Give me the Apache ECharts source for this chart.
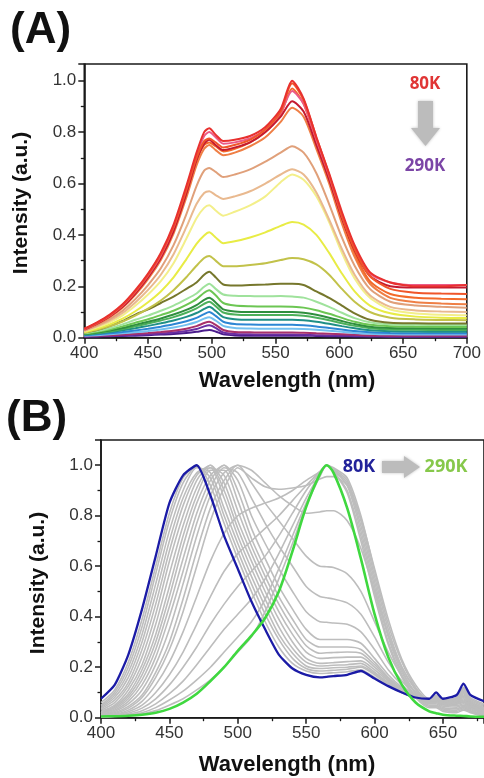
<!DOCTYPE html>
<html>
<head>
<meta charset="utf-8">
<script src="https://cdn.jsdelivr.net/npm/echarts@6.0.0/dist/echarts.min.js"></script>
<style>
  html, body { margin: 0; padding: 0; background: #fff; }
  #chart { width: 484px; height: 778px; }
</style>
</head>
<body>
<div id="chart"></div>
<script>
// ---- Panel A: temperature-dependent emission spectra (80 K -> 290 K) ----
const wavelengthA = [400,410,420,430,440,450,460,470,480,488,494,498,503,509,518,530,542,554,563,572,582,592,602,612,624,640,660,680,700];

const a80K  = [.035,.06,.09,.13,.185,.25,.33,.44,.59,.72,.80,.815,.79,.765,.77,.785,.82,.89,1.0,.93,.78,.64,.49,.36,.255,.215,.2,.2,.205];
const a90K  = [.034,.058,.087,.127,.18,.245,.325,.43,.575,.70,.765,.775,.76,.74,.75,.77,.81,.88,.99,.925,.78,.635,.475,.345,.24,.19,.175,.172,.17];
const a100K = [.033,.057,.086,.125,.178,.242,.32,.43,.58,.71,.785,.80,.78,.755,.76,.775,.81,.875,.96,.91,.77,.63,.475,.35,.25,.215,.205,.205,.205];
const a110K = [.032,.055,.083,.12,.172,.235,.31,.415,.56,.69,.755,.77,.75,.73,.74,.76,.80,.86,.92,.88,.75,.615,.465,.34,.24,.2,.195,.195,.195];
const a120K = [.033,.056,.085,.123,.175,.238,.315,.42,.565,.69,.75,.76,.745,.725,.735,.76,.80,.87,.97,.91,.765,.62,.465,.33,.22,.17,.155,.152,.15];
const a130K = [.031,.053,.08,.117,.167,.228,.302,.405,.545,.67,.735,.75,.73,.71,.72,.745,.78,.84,.895,.86,.735,.60,.445,.315,.21,.155,.138,.133,.13];
const a140K = [.028,.048,.072,.105,.15,.205,.27,.36,.48,.59,.65,.66,.645,.625,.635,.655,.685,.72,.745,.72,.64,.52,.39,.28,.19,.14,.125,.12,.117];
const a150K = [.026,.044,.066,.096,.137,.186,.245,.325,.43,.52,.563,.57,.555,.54,.55,.57,.6,.635,.655,.635,.565,.46,.345,.245,.165,.12,.106,.102,.10];
const a160K = [.024,.04,.06,.087,.124,.168,.22,.29,.385,.465,.505,.515,.495,.475,.49,.515,.55,.605,.635,.615,.55,.45,.33,.23,.155,.11,.094,.089,.087];
const a170K = [.022,.035,.052,.074,.103,.138,.18,.235,.305,.365,.398,.41,.39,.368,.375,.39,.41,.435,.45,.44,.40,.33,.25,.18,.125,.095,.082,.078,.077];
const a180K = [.02,.031,.045,.063,.086,.113,.145,.185,.235,.28,.31,.318,.3,.278,.278,.283,.29,.302,.31,.305,.285,.245,.19,.14,.1,.078,.071,.069,.068];
const a190K = [.02,.03,.045,.065,.09,.11,.135,.16,.19,.215,.245,.257,.235,.207,.203,.205,.207,.21,.21,.205,.18,.155,.125,.095,.07,.058,.056,.055,.055];
const a200K = [.018,.026,.037,.052,.07,.086,.105,.125,.15,.172,.198,.21,.19,.168,.163,.162,.161,.162,.16,.156,.14,.12,.097,.076,.06,.052,.05,.049,.049];
const a210K = [.016,.023,.032,.044,.058,.072,.088,.105,.128,.15,.175,.185,.165,.135,.125,.122,.121,.121,.12,.117,.107,.093,.077,.062,.05,.045,.043,.042,.042];
const a220K = [.014,.02,.028,.038,.05,.062,.075,.09,.108,.127,.147,.155,.137,.11,.102,.1,.1,.1,.1,.097,.089,.078,.065,.053,.043,.038,.037,.036,.036];
const a230K = [.013,.018,.025,.034,.044,.055,.067,.08,.097,.114,.132,.14,.123,.098,.09,.088,.088,.088,.088,.085,.078,.068,.056,.046,.037,.032,.031,.03,.03];
const a240K = [.012,.016,.022,.029,.037,.046,.056,.067,.081,.096,.112,.12,.104,.08,.072,.07,.07,.07,.07,.068,.062,.054,.045,.037,.029,.025,.024,.023,.023];
const a250K = [.01,.013,.017,.022,.028,.035,.043,.052,.064,.077,.092,.1,.085,.062,.053,.051,.05,.05,.05,.048,.044,.038,.032,.026,.021,.018,.017,.017,.017];
const a260K = [.008,.01,.013,.017,.021,.026,.032,.04,.05,.061,.074,.08,.067,.046,.038,.036,.035,.035,.035,.034,.031,.027,.023,.018,.015,.013,.012,.012,.012];
const a270K = [.006,.008,.01,.012,.015,.018,.022,.027,.035,.045,.057,.062,.05,.03,.022,.021,.02,.02,.02,.019,.017,.015,.013,.011,.009,.008,.008,.008,.008];
const a280K = [.005,.006,.007,.009,.011,.013,.016,.02,.026,.034,.044,.048,.038,.02,.014,.013,.012,.012,.012,.011,.01,.009,.008,.007,.006,.005,.005,.005,.005];
const a290K = [.004,.005,.006,.007,.008,.01,.012,.014,.018,.023,.028,.03,.024,.013,.009,.008,.008,.008,.008,.008,.007,.006,.006,.005,.005,.004,.004,.004,.004];

const spectraA = [a80K,a90K,a100K,a110K,a120K,a130K,a140K,a150K,a160K,a170K,a180K,a190K,a200K,a210K,a220K,a230K,a240K,a250K,a260K,a270K,a280K,a290K];
const tempsA   = ['80K','90K','100K','110K','120K','130K','140K','150K','160K','170K','180K','190K','200K','210K','220K','230K','240K','250K','260K','270K','280K','290K'];
const colorsA  = ['#e8312f','#f0562a','#ec5a86','#c41a30','#f36a2a','#ef7f45','#e0a07a','#e9b98f','#f3ef8a','#e8ec45','#c2c24a','#76772c',
                  '#9fe29c','#6cc653','#2f8f3e','#4cb05a','#1f8f86','#2d86d4','#74c0f0','#a8306a','#6b2fa3','#4a1c8c'];

// ---- Panel B: normalized spectra ----
const wavelengthB = [400,410,420,430,440,450,460,470,480,490,500,510,520,530,540,550,560,565,570,580,590,600,610,620,630,640,645,650,660,665,670,680];

const b80K  = [.075,.13,.25,.43,.64,.85,.96,1.0,.88,.72,.59,.46,.35,.25,.195,.17,.16,.162,.165,.17,.185,.155,.125,.1,.08,.075,.1,.075,.09,.135,.09,.065];
const b90K  = [.06,.11,.22,.39,.60,.81,.95,1.0,.92,.77,.63,.50,.38,.28,.215,.185,.175,.176,.178,.182,.19,.16,.125,.1,.08,.07,.09,.07,.08,.12,.08,.055];
const b100K = [.05,.1,.2,.36,.57,.78,.93,.995,.95,.8,.66,.53,.41,.31,.235,.195,.185,.186,.188,.192,.2,.17,.13,.1,.078,.068,.085,.068,.078,.115,.075,.05];
const b110K = [.045,.09,.18,.33,.53,.74,.9,.99,.97,.83,.69,.56,.44,.33,.255,.205,.195,.196,.198,.2,.205,.175,.135,.1,.078,.066,.08,.065,.075,.11,.07,.045];
const b120K = [.04,.08,.16,.3,.49,.7,.87,.97,.99,.87,.72,.59,.47,.36,.275,.22,.205,.206,.208,.21,.215,.18,.14,.105,.078,.064,.078,.062,.07,.105,.066,.04];
const b130K = [.035,.07,.14,.27,.45,.66,.84,.96,1.0,.9,.75,.62,.5,.39,.3,.235,.215,.216,.218,.222,.225,.19,.145,.105,.078,.062,.075,.06,.068,.1,.062,.038];
const b140K = [.03,.06,.125,.24,.41,.62,.8,.94,1.0,.93,.78,.65,.53,.42,.33,.26,.235,.236,.238,.24,.24,.2,.15,.11,.08,.062,.072,.058,.065,.095,.06,.035];
const b150K = [.025,.05,.11,.21,.37,.57,.76,.91,.99,.96,.82,.68,.56,.45,.36,.285,.255,.257,.258,.26,.255,.21,.155,.11,.08,.06,.07,.056,.062,.09,.058,.033];
const b160K = [.02,.045,.095,.19,.33,.52,.72,.88,.98,.98,.86,.71,.59,.48,.39,.31,.28,.28,.28,.28,.27,.22,.16,.115,.08,.06,.068,.055,.06,.085,.055,.03];
const b170K = [.018,.04,.085,.17,.3,.48,.68,.85,.96,1.0,.9,.75,.63,.52,.43,.35,.31,.31,.31,.31,.295,.235,.17,.12,.082,.06,.066,.053,.058,.08,.053,.028];
const b180K = [.015,.035,.075,.15,.27,.44,.63,.81,.94,1.0,.94,.8,.69,.59,.5,.42,.38,.378,.375,.37,.34,.27,.19,.13,.085,.06,.065,.052,.056,.075,.05,.026];
const b190K = [.012,.03,.065,.13,.24,.4,.58,.77,.91,.99,.97,.87,.77,.68,.6,.52,.48,.475,.47,.455,.41,.32,.22,.145,.09,.062,.066,.052,.055,.07,.048,.025];
const b200K = [.01,.025,.055,.11,.21,.35,.53,.72,.88,.97,1.0,.93,.85,.78,.71,.64,.6,.598,.595,.57,.5,.38,.26,.165,.1,.065,.068,.053,.054,.066,.046,.024];
const b210K = [.008,.02,.045,.09,.18,.3,.47,.66,.83,.94,1.0,.98,.93,.88,.84,.81,.815,.82,.82,.78,.67,.5,.33,.2,.115,.07,.072,.055,.054,.062,.044,.022];
const b220K = [.006,.016,.038,.08,.16,.27,.42,.6,.78,.91,.99,.95,.915,.905,.91,.92,.945,.955,.955,.92,.79,.59,.39,.23,.13,.075,.075,.056,.054,.06,.043,.02];
const b230K = [.005,.013,.03,.065,.13,.22,.34,.48,.62,.73,.8,.83,.85,.87,.9,.94,.975,1.0,.99,.95,.8,.58,.37,.22,.12,.065,.065,.05,.048,.055,.04,.018];
const b240K = [.004,.01,.024,.05,.1,.17,.26,.37,.48,.58,.65,.7,.75,.8,.86,.92,.975,1.0,.985,.94,.78,.56,.35,.2,.11,.06,.06,.045,.042,.05,.036,.015];
const b250K = [.004,.008,.018,.038,.075,.13,.2,.28,.37,.45,.52,.58,.64,.72,.81,.9,.97,1.0,.98,.93,.76,.54,.33,.19,.1,.055,.055,.04,.036,.045,.032,.012];
const b260K = [.003,.007,.014,.028,.055,.095,.145,.21,.28,.35,.41,.47,.55,.65,.76,.87,.965,1.0,.98,.92,.74,.52,.32,.18,.095,.05,.05,.035,.03,.04,.028,.01];
const b270K = [.003,.006,.011,.02,.04,.07,.105,.15,.2,.26,.32,.38,.47,.59,.72,.85,.96,1.0,.975,.9,.72,.5,.3,.17,.085,.045,.045,.03,.025,.035,.024,.008];
const b280K = [.003,.005,.009,.015,.028,.05,.075,.11,.15,.2,.26,.32,.42,.55,.69,.84,.955,1.0,.975,.89,.7,.48,.29,.16,.08,.04,.04,.025,.02,.03,.02,.006];
const b290K = [.005,.006,.008,.012,.02,.035,.06,.095,.145,.2,.265,.325,.395,.5,.66,.835,.965,1.0,.97,.83,.63,.41,.24,.13,.06,.025,.018,.012,.008,.007,.005,.004];

const grayB  = [b90K,b100K,b110K,b120K,b130K,b140K,b150K,b160K,b170K,b180K,b190K,b200K,b210K,b220K,b230K,b240K,b250K,b260K,b270K,b280K];
const grayTB = ['90K','100K','110K','120K','130K','140K','150K','160K','170K','180K','190K','200K','210K','220K','230K','240K','250K','260K','270K','280K'];

// ---- Axis tick values ----
const xTicksA = { min: 400, max: 700, step: 50 };
const xTicksB = { min: 400, max: 680, step: 50 };
const yTicksA = { min: 0, max: 1.065, step: 0.2 };
const yTicksB = { min: 0, max: 1.1, step: 0.2 };

const FONT = 'Liberation Sans';
const AXIS_COLOR = '#1a1a1a';

function pairs(xs, ys) { return xs.map((x, i) => [x, ys[i]]); }

function xAxis(gridIndex, t) {
  return {
    type: 'value', gridIndex, min: t.min, max: t.max, interval: t.step,
    axisLine: { show: true, onZero: false, lineStyle: { color: AXIS_COLOR, width: 1.6 } },
    axisTick: { show: true, inside: false, length: 6, lineStyle: { color: AXIS_COLOR, width: 1.5 } },
    minorTick: { show: true, splitNumber: 2, length: 3.5, lineStyle: { color: AXIS_COLOR, width: 1.3 } },
    splitLine: { show: false },
    axisLabel: { color: '#333', fontSize: 17, fontFamily: FONT, margin: 7, showMaxLabel: t.max % t.step === 0 }
  };
}
function yAxis(gridIndex, t) {
  return {
    type: 'value', gridIndex, min: t.min, max: t.max, interval: t.step,
    axisLine: { show: true, onZero: false, lineStyle: { color: AXIS_COLOR, width: 1.6 } },
    axisTick: { show: true, inside: false, length: 6, lineStyle: { color: AXIS_COLOR, width: 1.5 } },
    minorTick: { show: true, splitNumber: 2, length: 3.5, lineStyle: { color: AXIS_COLOR, width: 1.3 } },
    splitLine: { show: false },
    axisLabel: { color: '#333', fontSize: 17, fontFamily: FONT, margin: 8, showMaxLabel: false,
                 formatter: v => v.toFixed(1) }
  };
}

const series = [];
spectraA.forEach((vals, i) => {
  series.push({
    name: tempsA[i], type: 'line', xAxisIndex: 0, yAxisIndex: 0,
    data: pairs(wavelengthA, vals), showSymbol: false, smooth: 0.25, z: 30 - i,
    lineStyle: { color: colorsA[i], width: 2 }, itemStyle: { color: colorsA[i] }
  });
});
grayB.forEach((vals, i) => {
  series.push({
    name: grayTB[i], type: 'line', xAxisIndex: 1, yAxisIndex: 1,
    data: pairs(wavelengthB, vals), showSymbol: false, smooth: 0.25, z: 2,
    lineStyle: { color: '#bdbdbd', width: 1.6 }, itemStyle: { color: '#bdbdbd' }
  });
});
series.push({
  name: '80K', type: 'line', xAxisIndex: 1, yAxisIndex: 1,
  data: pairs(wavelengthB, b80K), showSymbol: false, smooth: 0.2, z: 4,
  lineStyle: { color: '#1b1ba6', width: 2.3 }, itemStyle: { color: '#1b1ba6' }
});
series.push({
  name: '290K', type: 'line', xAxisIndex: 1, yAxisIndex: 1,
  data: pairs(wavelengthB, b290K), showSymbol: false, smooth: 0.3, z: 5,
  lineStyle: { color: '#3fd83f', width: 2.6 }, itemStyle: { color: '#3fd83f' }
});

const titleStyle = { fontFamily: FONT, fontWeight: 'bold', fill: '#111' };

const option = {
  backgroundColor: '#ffffff',
  animation: false,
  grid: [
    { left: 84.3, right: 14.7, top: 64, bottom: 440.3, show: true, borderColor: AXIS_COLOR, borderWidth: 1.6 },
    { left: 101, right: -3, top: 440, bottom: 60.3, show: true, borderColor: AXIS_COLOR, borderWidth: 1.6 }
  ],
  xAxis: [xAxis(0, xTicksA), xAxis(1, xTicksB)],
  yAxis: [yAxis(0, yTicksA), yAxis(1, yTicksB)],
  series,
  graphic: [
    // panel letters
    { type: 'text', left: 10, top: 9, style: Object.assign({ text: '(A)', fontSize: 44 }, titleStyle) },
    { type: 'text', left: 6, top: 397, style: Object.assign({ text: '(B)', fontSize: 44 }, titleStyle) },
    // axis titles
    { type: 'text', x: 287, y: 381, style: Object.assign({ text: 'Wavelength (nm)', fontSize: 22, align: 'center', verticalAlign: 'middle' }, titleStyle) },
    { type: 'text', x: 287, y: 765, style: Object.assign({ text: 'Wavelength (nm)', fontSize: 22, align: 'center', verticalAlign: 'middle' }, titleStyle) },
    { type: 'text', x: 21, y: 203, rotation: Math.PI / 2, style: Object.assign({ text: 'Intensity (a.u.)', fontSize: 21, align: 'center', verticalAlign: 'middle' }, titleStyle) },
    { type: 'text', x: 38, y: 583, rotation: Math.PI / 2, style: Object.assign({ text: 'Intensity (a.u.)', fontSize: 21, align: 'center', verticalAlign: 'middle' }, titleStyle) },
    // panel A temperature legend
    { type: 'text', x: 425, y: 84, style: { text: '80K', fontFamily: 'Open Sans', fontWeight: 'bold', fontSize: 17, fill: '#e03535', align: 'center', verticalAlign: 'middle' } },
    { type: 'polygon', shape: { points: [[418, 101], [433, 101], [433, 128], [440, 128], [425.5, 146], [411, 128], [418, 128]] },
      style: { fill: '#bcbcbc', shadowBlur: 3, shadowColor: 'rgba(0,0,0,0.25)' } },
    { type: 'text', x: 425, y: 166, style: { text: '290K', fontFamily: 'Open Sans', fontWeight: 'bold', fontSize: 17, fill: '#7b45a6', align: 'center', verticalAlign: 'middle' } },
    // panel B temperature legend
    { type: 'text', x: 359, y: 467, style: { text: '80K', fontFamily: 'Open Sans', fontWeight: 'bold', fontSize: 18, fill: '#22229a', align: 'center', verticalAlign: 'middle' } },
    { type: 'polygon', shape: { points: [[382, 461], [404, 461], [404, 456], [420, 467], [404, 478], [404, 473], [382, 473]] },
      style: { fill: '#bcbcbc', shadowBlur: 3, shadowColor: 'rgba(0,0,0,0.25)' } },
    { type: 'text', x: 446, y: 467, style: { text: '290K', fontFamily: 'Open Sans', fontWeight: 'bold', fontSize: 18, fill: '#86c84a', align: 'center', verticalAlign: 'middle' } }
  ]
};

const chart = echarts.init(document.getElementById('chart'), null, { renderer: 'canvas', width: 484, height: 778 });
chart.setOption(option);
</script>
</body>
</html>
